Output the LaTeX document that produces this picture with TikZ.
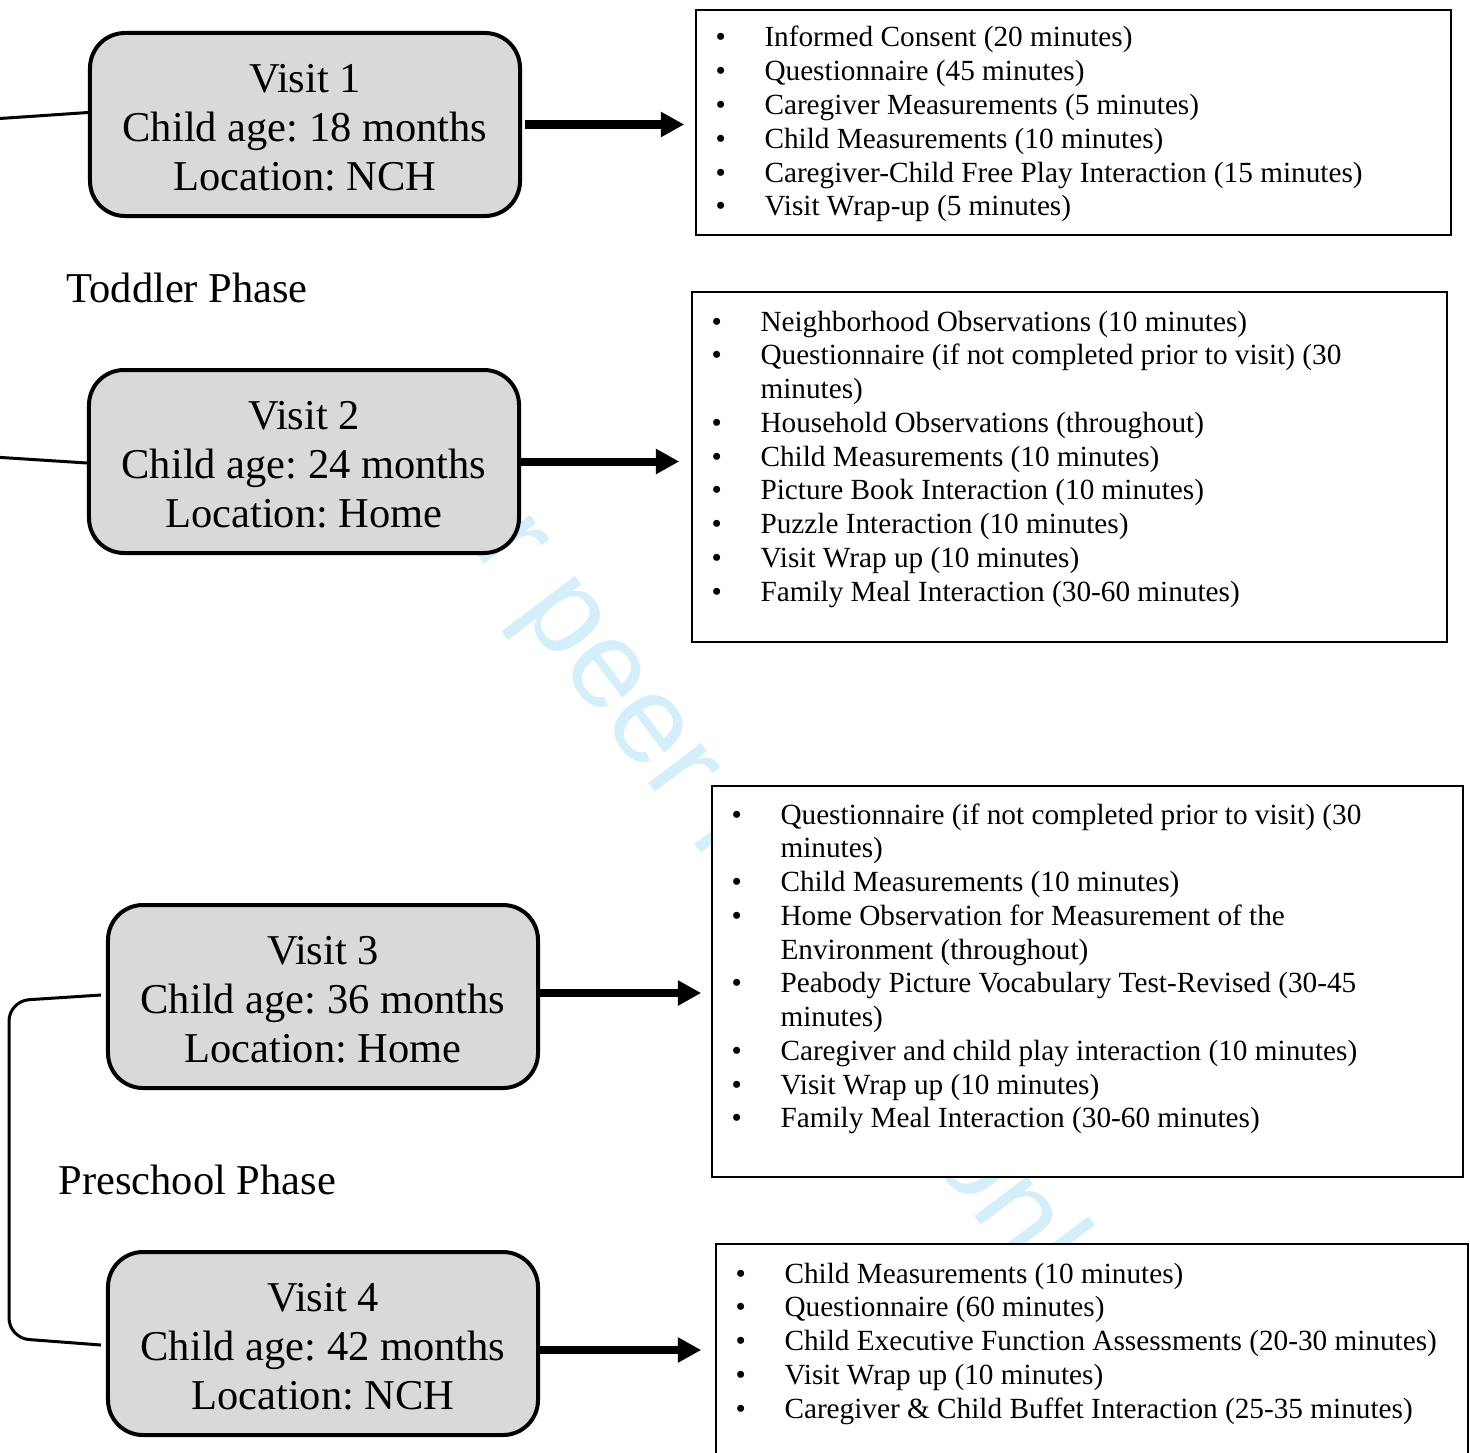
\documentclass[tikz,border=0pt]{standalone}
\usepackage{fontspec}
\setmainfont{Liberation Serif}
\newfontfamily\wmfont{Liberation Sans}
\usetikzlibrary{arrows.meta,calc}
\definecolor{boxgray}{HTML}{D9D9D9}
\definecolor{wmblue}{HTML}{D4EEFA}
\frenchspacing
\begin{document}
\begin{tikzpicture}[x=0.4pt,y=-0.4pt,
 visit/.style={draw,line width=1.6pt,fill=boxgray,rounded corners=14pt,minimum width=172pt,minimum height=73.2pt,align=center,font=\fontsize{17}{19.6}\selectfont,inner sep=0pt},
 listbox/.style={draw,line width=0.6pt,fill=white,inner sep=0pt},
 listtext/.style={anchor=base west,inner sep=0pt,font=\fontsize{11.7}{13.5}\selectfont},
 arr/.style={line width=3.2pt,-{Triangle[length=9.4pt,width=9.6pt]}},
 brk/.style={line width=1.2pt,rounded corners=8pt},
 phase/.style={anchor=base west,inner sep=0pt,font=\fontsize{17}{20}\selectfont}]

\useasboundingbox (0,0) rectangle (1470,1452);

% watermark
\node[rotate=-53,anchor=base west,inner sep=0pt,text=wmblue,font=\wmfont\fontsize{50}{50}\selectfont] (wm) at (384,432) {For peer review only};

% visit boxes
\node[visit] (v1) at (305,124.5) {\strut Visit 1\\Child age: 18 months\\Location: NCH};
\node[visit] (v2) at (304,461.5) {\strut Visit 2\\Child age: 24 months\\Location: Home};
\node[visit] (v3) at (323,996.5) {\strut Visit 3\\Child age: 36 months\\Location: Home};
\node[visit] (v4) at (323,1343.5) {\strut Visit 4\\Child age: 42 months\\Location: NCH};

% list boxes
\node[listbox,minimum width=302pt,minimum height=90pt] (b1) at (1073.5,122.5) {};
\node[listbox,minimum width=302pt,minimum height=140pt] (b2) at (1069.5,467) {};
\node[listbox,minimum width=300.4pt,minimum height=156.4pt] (b3) at (1087.5,981.5) {};
\node[listbox,minimum width=300.8pt,minimum height=100pt] (b4) at (1092,1369) {};

% list texts
\node[listtext] (t1) at (715,47) {\begin{tabular}[t]{@{}p{19.6pt}@{}l@{}}
\textbullet & Informed Consent (20 minutes)\\
\textbullet & Questionnaire (45 minutes)\\
\textbullet & Caregiver Measurements (5 minutes)\\
\textbullet & Child Measurements (10 minutes)\\
\textbullet & Caregiver-Child Free Play Interaction (15 minutes)\\
\textbullet & Visit Wrap-up (5 minutes)
\end{tabular}};

\node[listtext] (t2) at (711,331) {\begin{tabular}[t]{@{}p{19.6pt}@{}l@{}}
\textbullet & Neighborhood Observations (10 minutes)\\
\textbullet & Questionnaire (if not completed prior to visit) (30\\
 & minutes)\\
\textbullet & Household Observations (throughout)\\
\textbullet & Child Measurements (10 minutes)\\
\textbullet & Picture Book Interaction (10 minutes)\\
\textbullet & Puzzle Interaction (10 minutes)\\
\textbullet & Visit Wrap up (10 minutes)\\
\textbullet & Family Meal Interaction (30-60 minutes)
\end{tabular}};

\node[listtext] (t3) at (731,824) {\begin{tabular}[t]{@{}p{19.6pt}@{}l@{}}
\textbullet & Questionnaire (if not completed prior to visit) (30\\
 & minutes)\\
\textbullet & Child Measurements (10 minutes)\\
\textbullet & Home Observation for Measurement of the\\
 & Environment (throughout)\\
\textbullet & Peabody Picture Vocabulary Test-Revised (30-45\\
 & minutes)\\
\textbullet & Caregiver and child play interaction (10 minutes)\\
\textbullet & Visit Wrap up (10 minutes)\\
\textbullet & Family Meal Interaction (30-60 minutes)
\end{tabular}};

\node[listtext] (t4) at (735,1283) {\begin{tabular}[t]{@{}p{19.6pt}@{}l@{}}
\textbullet & Child Measurements (10 minutes)\\
\textbullet & Questionnaire (60 minutes)\\
\textbullet & Child Executive Function Assessments (20-30 minutes)\\
\textbullet & Visit Wrap up (10 minutes)\\
\textbullet & Caregiver \& Child Buffet Interaction (25-35 minutes)
\end{tabular}};

% arrows
\draw[arr,shorten <=1.2pt,shorten >=4.4pt] (v1.east) -- (v1.east -| b1.west);
\draw[arr,shorten >=4.8pt] (v2.east) -- (v2.east -| b2.west);
\draw[arr,shorten >=4pt] ([yshift=1.4pt]v3.east) -- ([yshift=1.4pt]v3.east -| b3.west);
\draw[arr,shorten >=5.6pt] ([yshift=-2.6pt]v4.east) -- ([yshift=-2.6pt]v4.east -| b4.west);

% brackets
\coordinate (c1) at (-22,120);
\coordinate (c2) at (-22,456);
\coordinate (c3) at (9,1001);
\coordinate (c4) at (9,1338);
\draw[brk] ([yshift=4.8pt]v1.west) -- (c1) -- (c2) -- ([yshift=-0.6pt]v2.west);
\draw[brk] ([xshift=-2pt,yshift=0.6pt]v3.west) -- (c3) -- (c4) -- ([xshift=-2pt,yshift=-0.6pt]v4.west);

% phase labels
\node[phase] (p1) at (66,302) {Toddler Phase};
\node[phase] (p2) at (58,1194) {Preschool Phase};
\end{tikzpicture}
\end{document}
